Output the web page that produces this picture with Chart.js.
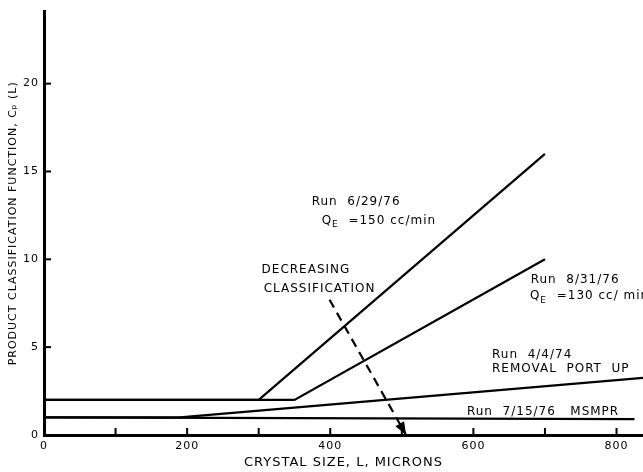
<!DOCTYPE html>
<html>
<head>
<meta charset="utf-8">
<script src="https://cdn.jsdelivr.net/npm/chart.js@4.4.0/dist/chart.umd.min.js"></script>
<style>
html, body { margin: 0; padding: 0; background: #fff; }
#wrap { width: 643px; height: 472px; }
</style>
</head>
<body>
<div id="wrap"><canvas id="myChart"></canvas></div>
<script>
// crystal size L (microns) and Cp(L)
var run62976X = [0, 300, 700];
var run62976Y = [2, 2, 16];
var run83176X = [0, 350, 700];
var run83176Y = [2, 2, 10];
var run4474X = [0, 190, 837];
var run4474Y = [1, 1, 3.25];
var run71576X = [0, 825];
var run71576Y = [1, 0.9];
// "decreasing classification" arrow
var arrowX = [399, 506];
var arrowY = [7.7, 0];

var xLabels = [0, 200, 400, 600, 800];
var yLabels = [0, 5, 10, 15, 20];
var xMinor = [100, 200, 300, 400, 500, 600, 700, 800];
var yMinor = [5, 10, 15, 20];

// text notes, anchored in data units (left edge, middle)
var notes = [
    { parts: [['Run  6/29/76']], x: 374, y: 13.25 },
    { parts: [['Q'], ['E', 1], ['  =150 cc/min']], x: 388, y: 12.2 },
    { parts: [['DECREASING']], x: 304, y: 9.4 },
    { parts: [['CLASSIFICATION']], x: 307, y: 8.3 },
    { parts: [['Run  8/31/76']], x: 680, y: 8.85 },
    { parts: [['Q'], ['E', 1], ['  =130 cc/ min']], x: 679, y: 7.9 },
    { parts: [['Run  4/4/74']], x: 626, y: 4.55 },
    { parts: [['REMOVAL  PORT  UP']], x: 626, y: 3.75 },
    { parts: [['Run  7/15/76   MSMPR']], x: 591, y: 1.3 }
];

function pts(xs, ys) {
    return xs.map(function(v, i) { return { x: v, y: ys[i] }; });
}
function line(xs, ys) {
    return { data: pts(xs, ys), showLine: true, borderColor: '#000', borderWidth: 2.2,
             pointRadius: 0, tension: 0, fill: false };
}

var arrowSet = line(arrowX, arrowY);
arrowSet.borderDash = [9, 6];

var extras = {
    id: 'extras',
    beforeDraw: function(chart) {
        chart.ctx.letterSpacing = '1px';
    },
    afterDraw: function(chart) {
        var ctx = chart.ctx, xs = chart.scales.x, ys = chart.scales.y;
        ctx.save();
        ctx.strokeStyle = '#000';
        ctx.fillStyle = '#000';
        ctx.lineWidth = 2;
        xMinor.forEach(function(v) {
            var p = xs.getPixelForValue(v);
            ctx.beginPath(); ctx.moveTo(p, ys.bottom); ctx.lineTo(p, ys.bottom - 7); ctx.stroke();
        });
        yMinor.forEach(function(v) {
            var p = ys.getPixelForValue(v);
            ctx.beginPath(); ctx.moveTo(xs.left, p); ctx.lineTo(xs.left + 7, p); ctx.stroke();
        });

        // arrow head
        var x0 = xs.getPixelForValue(arrowX[0]), y0 = ys.getPixelForValue(arrowY[0]);
        var tx = xs.getPixelForValue(arrowX[1]), ty = ys.getPixelForValue(arrowY[1]);
        var a = Math.atan2(ty - y0, tx - x0), L = 13, W = 5;
        ctx.beginPath();
        ctx.moveTo(tx, ty);
        ctx.lineTo(tx - L * Math.cos(a) + W * Math.sin(a), ty - L * Math.sin(a) - W * Math.cos(a));
        ctx.lineTo(tx - L * Math.cos(a) - W * Math.sin(a), ty - L * Math.sin(a) + W * Math.cos(a));
        ctx.closePath();
        ctx.fill();

        ctx.letterSpacing = '1px';
        ctx.textBaseline = 'middle';
        ctx.textAlign = 'left';
        notes.forEach(function(n) {
            var px = xs.getPixelForValue(n.x), py = ys.getPixelForValue(n.y);
            n.parts.forEach(function(p) {
                ctx.font = p[1] ? '9px "DejaVu Sans"' : '12px "DejaVu Sans"';
                ctx.fillText(p[0], px, p[1] ? py + 4 : py);
                px += ctx.measureText(p[0]).width;
            });
        });
        ctx.restore();
    }
};

var ctx = document.getElementById('myChart').getContext('2d');
var myChart = new Chart(ctx, {
    type: 'scatter',
    data: {
        datasets: [
            line(run62976X, run62976Y),
            line(run83176X, run83176Y),
            line(run4474X, run4474Y),
            line(run71576X, run71576Y),
            arrowSet
        ]
    },
    options: {
        responsive: true,
        maintainAspectRatio: false,
        animation: false,
        layout: { padding: { top: 11, right: 0, left: 0, bottom: 0 } },
        plugins: { legend: { display: false }, tooltip: { enabled: false } },
        scales: {
            x: {
                type: 'linear', min: 0, max: 837,
                afterBuildTicks: function(s) { s.ticks = xLabels.map(function(v) { return { value: v }; }); },
                afterFit: function(s) { s.height = 37; },
                ticks: { color: '#000', font: { family: 'DejaVu Sans', size: 11 }, padding: 5, maxRotation: 0 },
                grid: { drawOnChartArea: false, drawTicks: false },
                border: { color: '#000', width: 3 },
                title: { display: true, text: 'CRYSTAL SIZE, L, MICRONS', color: '#000',
                         font: { family: 'DejaVu Sans', size: 13 }, padding: { top: 2, bottom: 2 } }
            },
            y: {
                type: 'linear', min: 0, max: 24.1,
                afterBuildTicks: function(s) { s.ticks = yLabels.map(function(v) { return { value: v }; }); },
                afterFit: function(s) { s.width = 44; },
                ticks: { color: '#000', font: { family: 'DejaVu Sans', size: 11 }, padding: 5 },
                grid: { drawOnChartArea: false, drawTicks: false },
                border: { color: '#000', width: 3 },
                title: { display: true, text: 'PRODUCT CLASSIFICATION FUNCTION, C\u209A (L)', color: '#000',
                         font: { family: 'DejaVu Sans', size: 11 }, padding: { top: 7, bottom: 4 } }
            }
        }
    },
    plugins: [extras]
});
</script>
</body>
</html>
